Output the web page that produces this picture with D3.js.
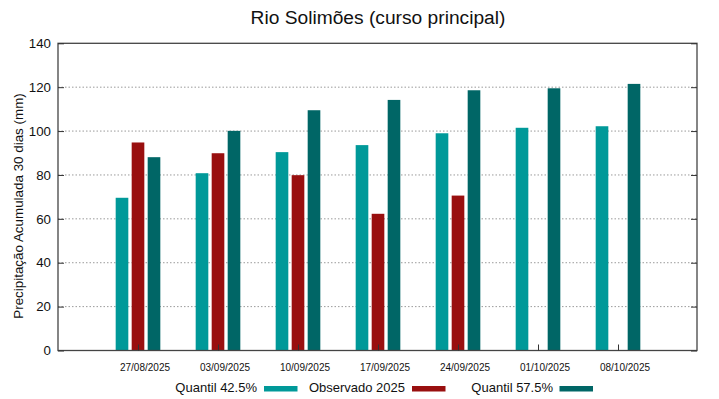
<!DOCTYPE html>
<html><head><meta charset="utf-8">
<script src="https://cdn.jsdelivr.net/npm/d3@7"></script>
<style>body{margin:0;background:#fff;}svg{display:block;font-family:"Liberation Sans",Arial,sans-serif;}</style>
</head><body>
<script>
const categories = ["27/08/2025","03/09/2025","10/09/2025","17/09/2025","24/09/2025","01/10/2025","08/10/2025"];
const q425 = [69.6, 80.8, 90.4, 93.6, 99.0, 101.5, 102.2];
const obs2025 = [94.8, 89.9, 79.9, 62.3, 70.6, null, null];
const q575 = [88.1, 100.1, 109.5, 114.2, 118.6, 119.5, 121.5];
const yTicks = [0, 20, 40, 60, 80, 100, 120, 140];
const seriesNames = ["Quantil 42.5%", "Observado 2025", "Quantil 57.5%"];
const seriesColors = ["#009999", "#990f0f", "#006666"];

const W = 719, H = 399;
const svg = d3.select("body").append("svg").attr("width", W).attr("height", H);
const x = d3.scaleLinear().domain([-1, 7]).range([58, 698]);
const y = d3.scaleLinear().domain([0, 140]).range([350.5, 43.3]);
const L = 58, R = 697, T = 43.3, B = 350.5;

// grid
svg.append("g").selectAll("line").data(yTicks.filter(t => t > 0 && t < 140)).join("line")
  .attr("x1", L).attr("x2", R).attr("y1", d => y(d)).attr("y2", d => y(d))
  .attr("stroke", "#9a9a9a").attr("stroke-width", 1).attr("stroke-dasharray", "1.5,2");

// bars
const series = [q425, obs2025, q575];
const offsets = [-0.2, 0, 0.2];
const bw = 0.158;
series.forEach((vals, s) => {
  svg.append("g").selectAll("rect").data(vals.map((v, i) => ({v, i})).filter(d => d.v != null)).join("rect")
    .attr("x", d => x(d.i + offsets[s] - bw / 2))
    .attr("width", x(bw) - x(0))
    .attr("y", d => y(d.v))
    .attr("height", d => y(0) - y(d.v))
    .attr("fill", seriesColors[s]);
});

// border
svg.append("rect").attr("x", L).attr("y", T).attr("width", R - L).attr("height", B - T)
  .attr("fill", "none").attr("stroke", "#444").attr("stroke-width", 1.3);

// y axis
const yAx = d3.axisLeft(y).tickValues(yTicks).tickSize(-6).tickPadding(7).tickFormat(d3.format("d"));
const gy = svg.append("g").attr("transform", `translate(${L},0)`).call(yAx);
gy.select(".domain").remove();
gy.selectAll("line").attr("stroke", "#333");
gy.selectAll("text").attr("font-size", 13.3).attr("fill", "#111").attr("font-family", "Liberation Sans, Arial, sans-serif");
const yAxR = d3.axisRight(y).tickValues(yTicks).tickSize(-6).tickFormat("");
const gyr = svg.append("g").attr("transform", `translate(${R},0)`).call(yAxR);
gyr.select(".domain").remove();
gyr.selectAll("line").attr("stroke", "#333");

// x axis
const xAx = d3.axisBottom(x).tickValues(d3.range(categories.length)).tickSize(-6).tickFormat("");
const gx = svg.append("g").attr("transform", `translate(0,${B})`).call(xAx);
gx.select(".domain").remove();
gx.selectAll("line").attr("stroke", "#333");
svg.append("g").selectAll("text").data(categories).join("text")
  .attr("x", (d, i) => x(i) + 7).attr("y", 371)
  .attr("text-anchor", "middle").attr("font-size", 10).attr("fill", "#111").text(d => d);

// title
svg.append("text").attr("x", 378).attr("y", 24).attr("text-anchor", "middle")
  .attr("font-size", 19.2).attr("fill", "#111").text("Rio Solimões (curso principal)");

// y title
svg.append("text").attr("transform", `translate(22.5,206) rotate(-90)`)
  .attr("text-anchor", "middle").attr("font-size", 13.4).attr("fill", "#111")
  .text("Precipitação Acumulada 30 dias (mm)");

// legend
const legTextRight = [257, 405, 553];
const legSwatchX = [264, 412, 559.5];
seriesNames.forEach((n, i) => {
  svg.append("text").attr("x", legTextRight[i]).attr("y", 392).attr("text-anchor", "end")
    .attr("font-size", 13).attr("fill", "#111").text(n);
  svg.append("rect").attr("x", legSwatchX[i]).attr("y", 386).attr("width", 33.5).attr("height", 5.5)
    .attr("fill", seriesColors[i]);
});
</script>
</body></html>
